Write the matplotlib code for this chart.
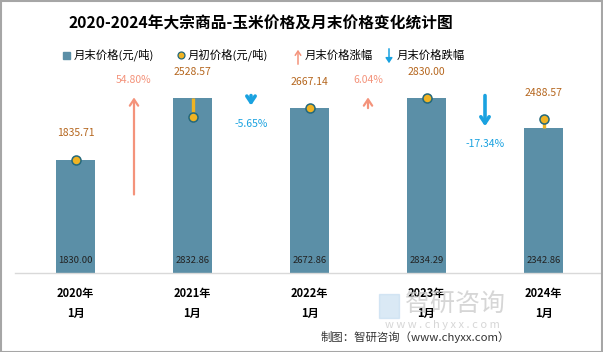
import matplotlib
matplotlib.use("Agg")
import matplotlib.pyplot as plt
from matplotlib.lines import Line2D
from matplotlib.patches import Rectangle, FancyArrowPatch

plt.rcParams['font.family'] = ['Noto Sans CJK SC', 'DejaVu Sans']

categories = ["2020年\n1月", "2021年\n1月", "2022年\n1月", "2023年\n1月", "2024年\n1月"]
end_price = [1830.00, 2832.86, 2672.86, 2834.29, 2342.86]
start_price = [1835.71, 2528.57, 2667.14, 2830.00, 2488.57]
change_pct = [54.80, -5.65, 6.04, -17.34]
change_labels = ["54.80%", "-5.65%", "6.04%", "-17.34%"]

BAR_C = "#5B8FA7"
DOT_C = "#F0B323"
DOT_EDGE = "#23687C"
LBL_C = "#B5661E"
UP_C = "#F4937B"
DN_C = "#1AA2E0"

W, H = 603, 352
fig = plt.figure(figsize=(W / 100, H / 100), dpi=100)
ax = fig.add_axes([17 / W, 1 - 273 / H, (602 - 17) / W, (273 - 57) / H])

x = list(range(len(categories)))
ax.bar(x, end_price, width=0.33, color=BAR_C, zorder=2)
ax.set_xlim(-0.5, len(categories) - 0.5)
ax.set_ylim(0, 3500)

# connectors and start dots
for i in x:
    ax.plot([i, i], [end_price[i], start_price[i]], color=DOT_C, lw=2.4, zorder=3,
            solid_capstyle='butt')
ax.plot(x, start_price, 'o', ms=6.5, color=DOT_C, mec=DOT_EDGE, mew=1.1, zorder=4, ls='none')

for i in x:
    top = max(end_price[i], start_price[i])
    ax.annotate(f"{start_price[i]:.2f}", (i, top), xytext=(0, 19), textcoords='offset points',
                ha='center', va='center', fontsize=7.5, color=LBL_C)
    ax.annotate(f"{end_price[i]:.2f}", (i, 0), xytext=(0, 9), textcoords='offset points',
                ha='center', va='center', fontsize=6.8, color='#222222', zorder=5)

# change arrows
anchor = 2845
per_pct = 28.7
for j, p in enumerate(change_pct):
    xm = j + 0.5
    L = abs(p) * per_pct
    if p >= 0:
        tail, tip = anchor - L, anchor
        ax.annotate("", xy=(xm, tip), xytext=(xm, tail),
                    arrowprops=dict(arrowstyle='->,head_length=0.45,head_width=0.3',
                                    color=UP_C, lw=1.6, shrinkA=0, shrinkB=0))
        ax.annotate(change_labels[j], (xm, tip), xytext=(0, 12.5), textcoords='offset points',
                    ha='center', va='center', fontsize=7.5, color=UP_C)
    else:
        tail, tip = anchor + 30, anchor + 30 - L
        ax.annotate("", xy=(xm, tip), xytext=(xm, tail),
                    arrowprops=dict(arrowstyle='->,head_length=0.45,head_width=0.3',
                                    color=DN_C, lw=2.6, shrinkA=0, shrinkB=0))
        ax.annotate(change_labels[j], (xm, tip), xytext=(0, -13), textcoords='offset points',
                    ha='center', va='center', fontsize=7.5, color=DN_C)

ax.set_xticks(x)
ax.set_xticklabels(categories, fontsize=8, fontweight='bold')
for t in ax.get_xticklabels():
    t.set_linespacing(1.75)
    t.set_zorder(6)
ax.tick_params(axis='x', length=0, pad=10)
ax.set_yticks([])
for s in ['top', 'right', 'left']:
    ax.spines[s].set_visible(False)
ax.spines['bottom'].set_color('#D9D9D9')
ax.spines['bottom'].set_linewidth(1.0)
ax.spines['bottom'].set_bounds(-0.52, 4.5)

# title
fig.text(261 / W, 1 - 24 / H, "2020-2024年大宗商品-玉米价格及月末价格变化统计图",
         ha='center', va='center', fontsize=11.3, fontweight='bold')

# legend (manual)
ly = 1 - 55 / H
fig.add_artist(Rectangle((63 / W, 1 - 59 / H), 7 / W, 7 / H, color=BAR_C, transform=fig.transFigure))
fig.text(74 / W, ly, "月末价格(元/吨)", ha='left', va='center', fontsize=8.2)
fig.add_artist(Line2D([181 / W], [ly], marker='o', ms=5, color=DOT_C, mec=DOT_EDGE, mew=0.9,
                      transform=fig.transFigure))
fig.text(188 / W, ly, "月初价格(元/吨)", ha='left', va='center', fontsize=8.2)
fig.add_artist(FancyArrowPatch((298 / W, 1 - 67 / H), (298 / W, 1 - 47 / H),
                               transform=fig.transFigure, arrowstyle='->,head_length=3,head_width=2',
                               color=UP_C, lw=1.1))
fig.text(305 / W, ly, "月末价格涨幅", ha='left', va='center', fontsize=8.2)
fig.add_artist(FancyArrowPatch((389 / W, 1 - 46 / H), (389 / W, 1 - 66 / H),
                               transform=fig.transFigure, arrowstyle='-|>,head_length=3,head_width=2',
                               color=DN_C, lw=1.1))
fig.text(397 / W, ly, "月末价格跌幅", ha='left', va='center', fontsize=8.2)

# watermark
fig.add_artist(Rectangle((379 / W, 1 - 318 / H), 20 / W, 24 / H, color='#BDD7EE', alpha=0.55,
                         transform=fig.transFigure))
fig.text(455 / W, 1 - 304 / H, "智研咨询", ha='center', va='center', fontsize=18,
         color='#C9C9C9', alpha=0.75, zorder=0)
fig.text(442 / W, 1 - 325 / H, "w w w . c h y x x . c o m", ha='center', va='center',
         fontsize=8, color='#C9C9C9', alpha=0.75, zorder=0)

# source
fig.text(510 / W, 1 - 337 / H, "制图：智研咨询（www.chyxx.com）", ha='right', va='center',
         fontsize=8.2, color='#333333')

# border
fig.add_artist(Rectangle((0.5 / W, 0.5 / H), (W - 1.5) / W, (H - 1.5) / H, fill=False,
                         edgecolor='#A6A6A6', lw=1.5, transform=fig.transFigure))

fig.savefig("out.png", dpi=100)
